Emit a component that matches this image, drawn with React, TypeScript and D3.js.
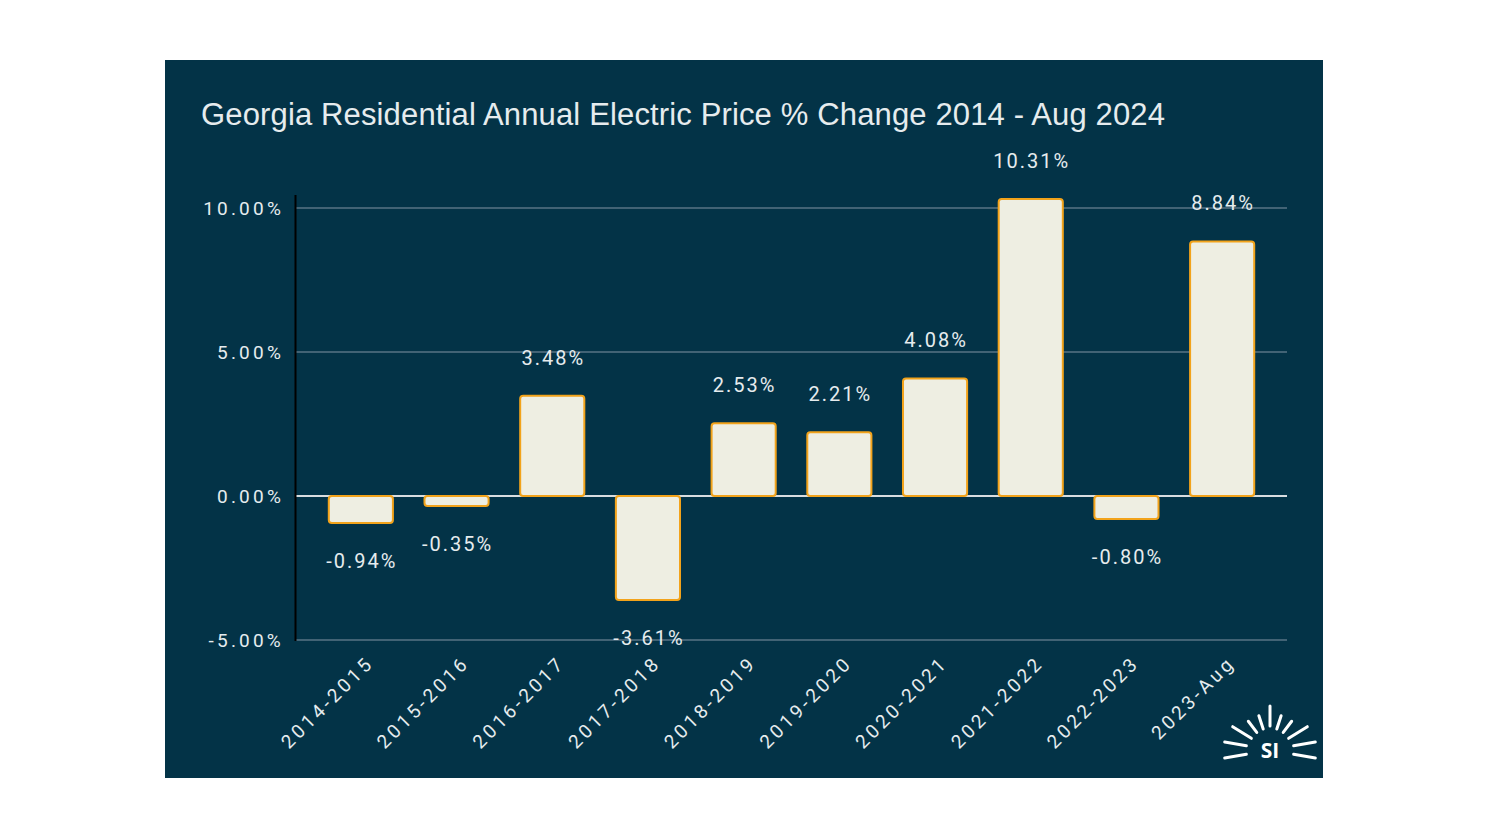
import React from "react";
import * as d3 from "d3";

const categories = ["2014-2015","2015-2016","2016-2017","2017-2018","2018-2019","2019-2020","2020-2021","2021-2022","2022-2023","2023-Aug"];
const values = [-0.94,-0.35,3.48,-3.61,2.53,2.21,4.08,10.31,-0.80,8.84];
const yTicks = [-5,0,5,10];
const title = "Georgia Residential Annual Electric Price % Change 2014 - Aug 2024";

const W = 1488, H = 837;
const BG = "#033347";
const BAR = "#eeeee2";
const STROKE = "#f2a31b";
const TXT = "#e6ecee";

const pct = (v: number) => d3.format(".2f")(v).replace("\u2212", "-") + "%";

export default function App() {
  const x = d3.scaleBand<string>().domain(categories).range([313, 1270]).paddingInner(0.33).paddingOuter(0.165);
  const y = d3.scaleLinear().domain([-5, 10]).range([640, 208]);
  const rays = [-100, -80, -58, -37, -18, 0, 18, 37, 58, 80, 100];
  const cx = 1270, cy = 750;
  return (
    <div style={{ position: "fixed", left: 0, top: 0 }}>
      <svg width={W} height={H} style={{ display: "block" }}>
        <rect x={0} y={0} width={W} height={H} fill="#ffffff" />
        <rect x={165} y={60} width={1158} height={718} fill={BG} />
        <text x={201} y={125} fill={TXT} fontFamily="'Liberation Sans', Arial, sans-serif" fontSize={31} textLength={964} lengthAdjust="spacing">{title}</text>
        {yTicks.map(t => (
          <g key={t}>
            <line x1={295} x2={1287} y1={y(t)} y2={y(t)} stroke={t === 0 ? "#d8dde0" : "#587584"} strokeWidth={t === 0 ? 2 : 1.5} />
            <text x={284} y={y(t)} dy="0.35em" textAnchor="end" fill={TXT} fontFamily="Roboto, sans-serif" fontSize={19} letterSpacing={3.2}>{pct(t)}</text>
          </g>
        ))}
        <line x1={295.5} x2={295.5} y1={195} y2={641} stroke="#000000" strokeWidth={2} />
        {categories.map((c, i) => {
          const v = values[i];
          const x0 = x(c)!;
          const top = Math.min(y(v), y(0));
          const h = Math.abs(y(v) - y(0));
          const cxb = x0 + x.bandwidth() / 2;
          const ly = v >= 0 ? y(v) - 38 : y(v) + 38;
          return (
            <g key={c}>
              <rect x={x0} y={top} width={x.bandwidth()} height={h} rx={3} fill={BAR} stroke={STROKE} strokeWidth={2} />
              <text x={cxb + 1} y={ly} dy="0.35em" textAnchor="middle" fill={TXT} fontFamily="Roboto, sans-serif" fontSize={20} letterSpacing={2}>{pct(v)}</text>
              <text transform={`translate(${cxb + 14},${664}) rotate(-45)`} textAnchor="end" fill={TXT} fontFamily="Roboto, sans-serif" fontSize={19} letterSpacing={3.4}>{c}</text>
            </g>
          );
        })}
        <g stroke="#ffffff" strokeWidth={3} strokeLinecap="round">
          {rays.map(a => {
            const r = (a * Math.PI) / 180;
            const side = Math.abs(a) >= 75;
            const r1 = side ? 24 : Math.abs(a) < 5 ? 24 : 22;
            const r2 = side ? 46 : Math.abs(a) < 5 ? 44 : Math.abs(a) > 50 ? 44 : 36;
            return <line key={a} x1={cx + r1 * Math.sin(r)} y1={cy - r1 * Math.cos(r)} x2={cx + r2 * Math.sin(r)} y2={cy - r2 * Math.cos(r)} />;
          })}
        </g>
        <text x={cx} y={cy + 8} textAnchor="middle" fill="#ffffff" fontFamily="'Open Sans', sans-serif" fontWeight={700} fontSize={21}>SI</text>
      </svg>
    </div>
  );
}
